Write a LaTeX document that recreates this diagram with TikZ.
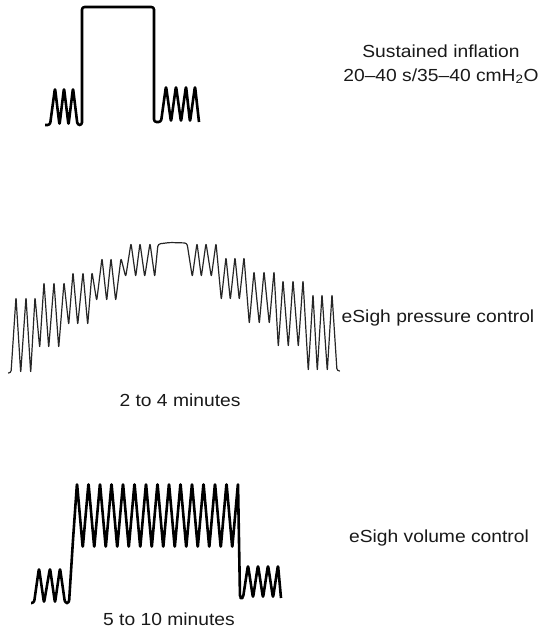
\documentclass[tikz,border=0pt]{standalone}
\usepackage{fontspec}
\setmainfont{Liberation Sans}[FakeStretch=1.1]

\begin{document}
\begin{tikzpicture}[x=1pt,
y=-1pt,
every node/.style={
anchor=base,
inner sep=0pt,
font=\fontsize{17.5}{21}\selectfont,
text=black!90,
},
trace/.style={
draw=black,
line width=2.6pt,
rounded corners=2.5pt,
line join=round,
},
thintrace/.style={
draw=black!85,
line width=1.2pt,
rounded corners=2.5pt,
line join=round,
}]

\useasboundingbox (0,0) rectangle (538,635);

%Sustained inflation
\draw[trace] (45,125) -- (50,125) \foreach \p in {55,64,73}{ -- (\p,88) -- (\p+4.5,125)} -- (82,125) -- (82,7) -- (154,7) -- (154,122) \foreach \p in {166,176,186,195}{ -- (\p-5,122) -- (\p,86)} -- (199,122);
\node (silabel) at (441,57) {Sustained inflation};
\node (sivalues) at (441,81) {20–40 s/35–40 cmH\textsubscript{2}O};

%eSigh pressure control
\draw[thintrace] (9,373) -- (11,373) \foreach \p/\h/\t in {16/297/373,26/297/373,35/297/348,44/282/348,54/282/348,64/282/325,73/272/325,83/272/325,92/272/301,102/258/301,111/258/301,121/258/277,131/243/277,140/243/277,150/243/277}{ -- (\p,\h) -- (\p+4.7,\t)} -- (158,244) -- (170,242.5) -- (187,243) \foreach \p/\h/\t in {197/243/277,206/243/277,216/243/277,226/257/300,235/257/300,244/257/300,254/271/324,264/271/324,274/271/324,283/280/347,293/280/347,303/280/347,313/294/371,322/294/371,332/294/371}{ -- (\p-4.7,\t) -- (\p,\h)} -- (337,371) -- (339,371);
\node (pclabel) at (438,322) {eSigh pressure control};
\node (pctime) at (180,406) {2 to 4 minutes};

%eSigh volume control
\draw[trace] (31,603) -- (34,603) \foreach \p in {39,50,60}{ -- (\p,568) -- (\p+5,603)} -- (69,603) -- (73,540) -- (77,483) \foreach \i in {1,...,14}{ -- (71.25+11.5*\i,548) -- (77+11.5*\i,483)} -- (240,598) \foreach \p in {248,258,268,278}{ -- (\p-5,598) -- (\p,565)} -- (281,598);
\node (vclabel) at (439,542) {eSigh volume control};
\node (vctime) at (169,625) {5 to 10 minutes};
\end{tikzpicture}
\end{document}
